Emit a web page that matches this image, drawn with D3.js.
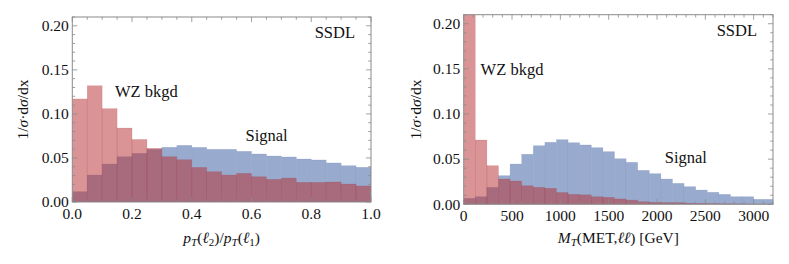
<!DOCTYPE html>
<html><head><meta charset="utf-8">
<script src="https://cdn.jsdelivr.net/npm/d3@7"></script>
</head>
<body style="margin:0;background:#fff">
<svg id="chart" width="789" height="264" font-family="Liberation Serif" style="display:block"></svg>
<script>
// ---------- data ----------
const leftBinStarts = [0,0.05,0.10,0.15,0.20,0.25,0.30,0.35,0.40,0.45,0.50,0.55,0.60,0.65,0.70,0.75,0.80,0.85,0.90,0.95];
const leftBinWidth = 0.05;
const leftWZ = [0.117,0.132,0.106,0.084,0.071,0.061,0.0514,0.048,0.0393,0.0344,0.0306,0.0325,0.0287,0.0257,0.0272,0.0223,0.0223,0.0227,0.0204,0.0182];
const leftSignal = [0.0117,0.0306,0.0431,0.0514,0.0552,0.0598,0.0621,0.0643,0.062,0.0598,0.0598,0.0575,0.0545,0.0522,0.0511,0.0488,0.0477,0.0443,0.0412,0.0394];

const rightBinStarts = [0,120,240,360,480,600,720,840,960,1080,1200,1320,1440,1560,1680,1800,1920,2040,2160,2280,2400,2520,2640,2760,2880,3000,3120];
const rightBinWidth = 120;
const rightWZ = [0.70,0.0712,0.0428,0.028,0.0258,0.0206,0.0188,0.0177,0.0131,0.011,0.0105,0.0084,0.0077,0.0059,0.0046,0.0029,0.0022,0.0019,0.0019,0.0012,0.0010,0.0008,0.0006,0.0005,0.0004,0.0003,0.0003];
const rightSignal = [0.0066,0.0084,0.0188,0.0317,0.0446,0.0554,0.0649,0.0687,0.0716,0.0682,0.0657,0.0627,0.0583,0.0505,0.0465,0.0376,0.0339,0.028,0.0232,0.0195,0.0158,0.0133,0.011,0.0084,0.0084,0.0055,0.0055];

const yTicks = [0,0.05,0.10,0.15,0.20];
const yTickLabels = ["0.00","0.05","0.10","0.15","0.20"];
const leftXTicks = [0,0.2,0.4,0.6,0.8,1.0];
const leftXTickLabels = ["0.0","0.2","0.4","0.6","0.8","1.0"];
const rightXTicks = [0,500,1000,1500,2000,2500,3000];
const rightXTickLabels = ["0","500","1000","1500","2000","2500","3000"];

const seriesNames = ["WZ bkgd","Signal"];
const tagText = "SSDL";

// ---------- drawing ----------
const svg = d3.select("#chart");
const BLUE = "rgb(152,170,205)";
const RED = "rgba(183,47,51,0.515)";
const FRAME = "#8a8a8a";

function txt(sel, size){
  return sel.append("text").attr("font-family","Liberation Serif").attr("font-size",size).attr("fill","#111");
}

function panel(o){
  const x = d3.scaleLinear().domain(o.xDomain).range([o.x0,o.x1]);
  const y = d3.scaleLinear().domain([0,0.21]).range([o.y1,o.y0]);
  const g = svg.append("g");
  const cid = "clip"+o.id;
  svg.append("defs").append("clipPath").attr("id",cid).append("rect")
    .attr("x",o.x0).attr("y",o.y0).attr("width",o.x1-o.x0).attr("height",o.y1-o.y0);
  const bars = g.append("g").attr("clip-path",`url(#${cid})`);
  bars.selectAll("rect.sig").data(o.starts).join("rect").attr("class","sig")
    .attr("x",d=>x(d)).attr("width",d=>x(d+o.bw)-x(d))
    .attr("y",(d,i)=>y(o.sig[i])).attr("height",(d,i)=>y(0)-y(o.sig[i]))
    .attr("fill",BLUE).attr("stroke","rgba(120,140,185,0.35)").attr("stroke-width",0.6);
  bars.selectAll("rect.wz").data(o.starts).join("rect").attr("class","wz")
    .attr("x",d=>x(d)).attr("width",d=>x(d+o.bw)-x(d))
    .attr("y",(d,i)=>y(o.wz[i])).attr("height",(d,i)=>y(0)-y(o.wz[i]))
    .attr("fill",RED).attr("stroke","rgba(150,40,50,0.18)").attr("stroke-width",0.6);

  g.append("rect").attr("x",o.x0).attr("y",o.y0).attr("width",o.x1-o.x0).attr("height",o.y1-o.y0)
    .attr("fill","none").attr("stroke",FRAME).attr("stroke-width",1);

  const tk = g.append("g").attr("stroke",FRAME).attr("stroke-width",0.8);
  const xMinor = d3.range(o.xDomain[0], o.xDomain[1]+1e-9, o.xMinorStep);
  xMinor.forEach(v=>{
    const major = o.xTicks.some(t=>Math.abs(t-v)<1e-9);
    const L = major?5:2.8, px = x(v);
    tk.append("line").attr("x1",px).attr("x2",px).attr("y1",o.y1).attr("y2",o.y1-L);
    tk.append("line").attr("x1",px).attr("x2",px).attr("y1",o.y0).attr("y2",o.y0+L);
  });
  const yMinor = d3.range(0,0.2101,0.01);
  yMinor.forEach(v=>{
    const major = yTicks.some(t=>Math.abs(t-v)<1e-9);
    const L = major?5:2.8, py = y(v);
    tk.append("line").attr("y1",py).attr("y2",py).attr("x1",o.x0).attr("x2",o.x0+L);
    tk.append("line").attr("y1",py).attr("y2",py).attr("x1",o.x1).attr("x2",o.x1-L);
  });

  o.xTicks.forEach((d,i)=>{
    txt(g,15.5).attr("x",x(d)).attr("y",o.y1+16.5).attr("text-anchor","middle").text(o.xLabels[i]);
  });
  yTicks.forEach((d,i)=>{
    txt(g,15.5).attr("x",o.x0-3.5).attr("y",y(d)+5.3).attr("text-anchor","end").text(yTickLabels[i]);
  });

  const yl = txt(g,15.5).attr("transform",`translate(${o.yLabelX},${(o.y0+o.y1)/2}) rotate(-90)`)
    .attr("text-anchor","middle").attr("dy","0.35em");
  yl.append("tspan").text("1/");
  yl.append("tspan").attr("font-style","italic").text("σ");
  yl.append("tspan").text("·d");
  yl.append("tspan").attr("font-style","italic").text("σ");
  yl.append("tspan").text("/dx");

  txt(g,16.5).attr("x",x(o.wzPos[0])).attr("y",y(o.wzPos[1])).text(seriesNames[0]);
  txt(g,16.5).attr("x",x(o.sigPos[0])).attr("y",y(o.sigPos[1])).text(seriesNames[1]);
  txt(g,16.5).attr("x",o.x1-16).attr("y",o.y0+21).attr("text-anchor","end").text(tagText);

  o.xLabel(txt(g,15.5).attr("x",(o.x0+o.x1)/2).attr("y",243).attr("text-anchor","middle"));
}

panel({id:"L", x0:72.3, x1:371, y0:17, y1:202, xDomain:[0,1], xMinorStep:0.05,
  starts:leftBinStarts, bw:leftBinWidth, wz:leftWZ, sig:leftSignal,
  xTicks:leftXTicks, xLabels:leftXTickLabels, yLabelX:22.5,
  wzPos:[0.143,0.119], sigPos:[0.58,0.069],
  xLabel:t=>{
    t.append("tspan").attr("font-style","italic").text("p");
    t.append("tspan").attr("font-style","italic").attr("font-size",11).attr("dy",3).text("T");
    t.append("tspan").attr("dy",-3).text("(");
    t.append("tspan").attr("font-style","italic").text("ℓ");
    t.append("tspan").attr("font-size",11).attr("dy",3).text("2");
    t.append("tspan").attr("dy",-3).text(")/");
    t.append("tspan").attr("font-style","italic").text("p");
    t.append("tspan").attr("font-style","italic").attr("font-size",11).attr("dy",3).text("T");
    t.append("tspan").attr("dy",-3).text("(");
    t.append("tspan").attr("font-style","italic").text("ℓ");
    t.append("tspan").attr("font-size",11).attr("dy",3).text("1");
    t.append("tspan").attr("dy",-3).text(")");
  }});

panel({id:"R", x0:463.7, x1:773, y0:14.7, y1:204.3, xDomain:[0,3200], xMinorStep:100,
  starts:rightBinStarts, bw:rightBinWidth, wz:rightWZ, sig:rightSignal,
  xTicks:rightXTicks, xLabels:rightXTickLabels, yLabelX:416,
  wzPos:[175,0.143], sigPos:[2080,0.046],
  xLabel:t=>{
    t.append("tspan").attr("font-style","italic").text("M");
    t.append("tspan").attr("font-style","italic").attr("font-size",11).attr("dy",3).text("T");
    t.append("tspan").attr("dy",-3).text("(MET,");
    t.append("tspan").attr("font-style","italic").text("ℓℓ");
    t.append("tspan").text(") [GeV]");
  }});
</script>
</body></html>
